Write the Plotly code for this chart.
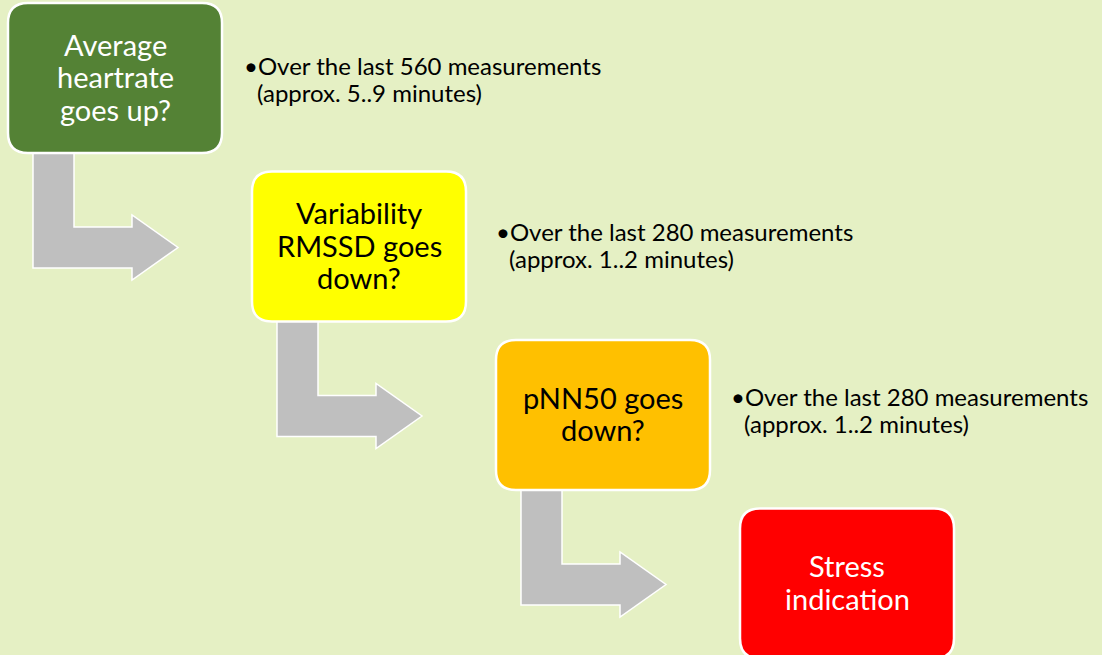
import plotly.graph_objects as go

# ---- data ----
step_labels = ["Average<br>heartrate<br>goes up?",
               "Variability<br>RMSSD goes<br>down?",
               "pNN50 goes<br>down?",
               "Stress<br>indication"]
step_fill = ["#548235", "#FFFF00", "#FFC000", "#FF0000"]
step_text_color = ["#FFFFFF", "#000000", "#000000", "#FFFFFF"]
note_line1 = ["•Over the last 560 measurements",
              "•Over the last 280 measurements",
              "•Over the last 280 measurements"]
note_line2 = ["(approx. 5..9 minutes)",
              "(approx. 1..2 minutes)",
              "(approx. 1..2 minutes)"]
note_x = [242, 494, 729]
note_y = [65, 231, 396]

W, H = 1102, 655
BG = "#E5F0C4"
BOX_W, BOX_H, R = 214, 150, 20
X0, Y0, DX, DY = 8, 3, 244, 168.5
FONT = "Lato, 'Open Sans', sans-serif"
BOX_FS, NOTE_FS = 29, 24
LINE_H = 32.5


def rrect(x0, y0, x1, y1, r):
    return (f"M{x0+r},{y0} L{x1-r},{y0} Q{x1},{y0} {x1},{y0+r} "
            f"L{x1},{y1-r} Q{x1},{y1} {x1-r},{y1} L{x0+r},{y1} "
            f"Q{x0},{y1} {x0},{y1-r} L{x0},{y0+r} Q{x0},{y0} {x0+r},{y0} Z")


def bent_arrow(bx, by):
    pts = [(bx + 25, by + 148), (bx + 66, by + 148), (bx + 66, by + 224),
           (bx + 124, by + 224), (bx + 124, by + 212), (bx + 170, by + 244.5),
           (bx + 124, by + 277), (bx + 124, by + 265), (bx + 25, by + 265)]
    return "M" + " L".join(f"{x},{y}" for x, y in pts) + " Z"


fig = go.Figure()
fig.add_trace(go.Scatter(x=[0, W], y=[0, H], mode="markers",
                         marker=dict(opacity=0), hoverinfo="skip",
                         showlegend=False))

shapes = []
annotations = []
for i in range(len(step_labels) - 1):
    bx, by = X0 + i * DX, Y0 + i * DY
    shapes.append(dict(type="path", path=bent_arrow(bx, by),
                       fillcolor="#BFBFBF",
                       line=dict(color="#FFFFFF", width=1.5),
                       layer="above"))
for i in range(len(step_labels)):
    bx, by = X0 + i * DX, Y0 + i * DY
    shapes.append(dict(type="path", path=rrect(bx, by, bx + BOX_W, by + BOX_H, R),
                       fillcolor=step_fill[i],
                       line=dict(color="#FFFFFF", width=2.5),
                       layer="above"))
    lines = step_labels[i].split("<br>")
    n = len(lines)
    cy = by + BOX_H / 2 - 1.5
    for k, ln in enumerate(lines):
        annotations.append(dict(x=bx + BOX_W / 2, y=cy + (k - (n - 1) / 2) * LINE_H,
                                xref="x", yref="y", text=ln,
                                showarrow=False, xanchor="center", yanchor="middle",
                                font=dict(family=FONT, size=BOX_FS,
                                          color=step_text_color[i])))

for i in range(len(note_line1)):
    annotations.append(dict(x=note_x[i], y=note_y[i], xref="x", yref="y",
                            text=note_line1[i], showarrow=False,
                            xanchor="left", yanchor="middle",
                            font=dict(family=FONT, size=NOTE_FS, color="#000000")))
    annotations.append(dict(x=note_x[i] + 13, y=note_y[i] + 27.5, xref="x", yref="y",
                            text=note_line2[i], showarrow=False,
                            xanchor="left", yanchor="middle",
                            font=dict(family=FONT, size=NOTE_FS, color="#000000")))

fig.update_layout(
    width=W, height=H,
    margin=dict(l=0, r=0, t=0, b=0),
    paper_bgcolor=BG, plot_bgcolor=BG,
    xaxis=dict(range=[0, W], visible=False, fixedrange=True),
    yaxis=dict(range=[H, 0], visible=False, fixedrange=True),
    shapes=shapes, annotations=annotations,
    showlegend=False,
)

fig.write_html("out.html", config={"displayModeBar": False})

# remove default page margin so the figure fills the window exactly
with open("out.html", encoding="utf-8") as f:
    html = f.read()
html = html.replace("<head>", "<head><style>html,body{margin:0;padding:0;overflow:hidden;}</style>", 1)
with open("out.html", "w", encoding="utf-8") as f:
    f.write(html)
